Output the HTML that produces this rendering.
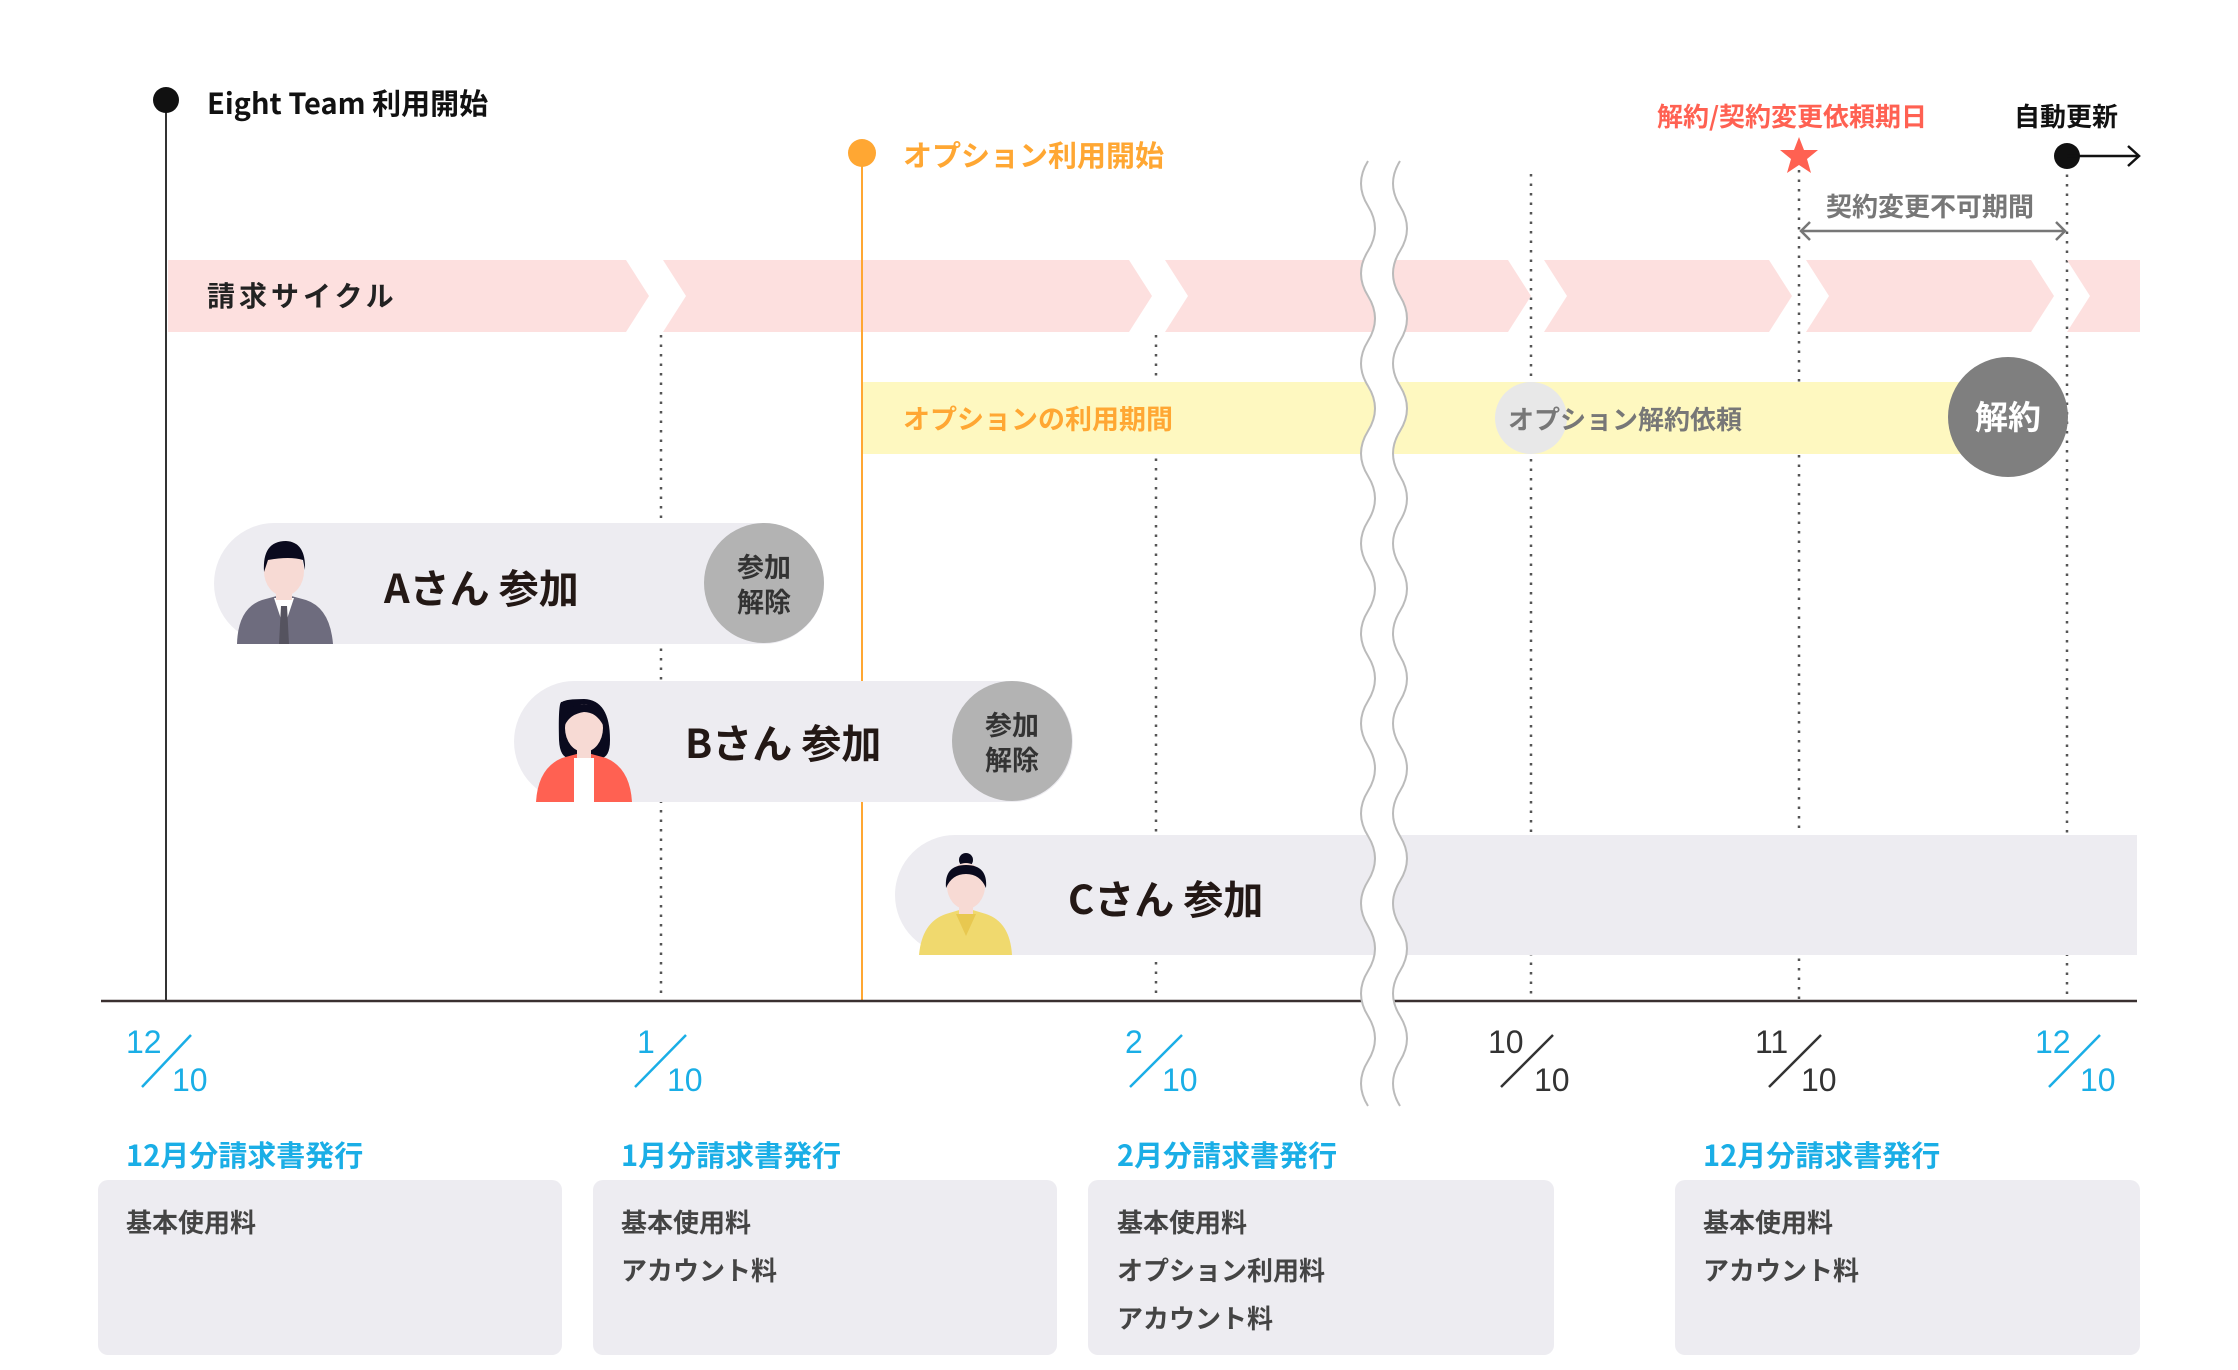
<!DOCTYPE html>
<html><head><meta charset="utf-8"><style>
html,body{margin:0;padding:0;background:#fff;}
svg{display:block;}
text{font-family:"Liberation Sans","Noto Sans CJK JP",sans-serif;}
.j{font-family:"Noto Sans CJK JP","Liberation Sans",sans-serif;}
</style></head><body>
<svg width="2238" height="1370" viewBox="0 0 2238 1370" xmlns="http://www.w3.org/2000/svg">
<rect width="2238" height="1370" fill="#fff"/>
<g stroke="#555" stroke-width="2.5" stroke-dasharray="2.5,7">
<line x1="661" y1="335" x2="661" y2="1000"/>
<line x1="1156" y1="335" x2="1156" y2="1000"/>
<line x1="1531" y1="174" x2="1531" y2="1000"/>
<line x1="1799" y1="170" x2="1799" y2="1000"/>
<line x1="2067" y1="165" x2="2067" y2="1000"/>
</g>
<g fill="#FDE0DF">
<polygon points="168,260 626,260 649,296 626,332 168,332"/>
<polygon points="663,260 1129,260 1152,296 1129,332 663,332 686,296"/>
<polygon points="1165,260 1508,260 1531,296 1508,332 1165,332 1188,296"/>
<polygon points="1544,260 1769,260 1792,296 1769,332 1544,332 1567,296"/>
<polygon points="1806,260 2031,260 2054,296 2031,332 1806,332 1829,296"/>
<polygon points="2067,260 2140,260 2140,332 2067,332 2090,296"/>
</g>
<text class="j" x="207" y="306" font-size="28" font-weight="700" fill="#222" letter-spacing="4">請求サイクル</text>
<rect x="862" y="382" width="1140" height="72" fill="#FEF8C0"/>
<text class="j" x="903" y="429" font-size="27" font-weight="700" fill="#FFA733">オプションの利用期間</text>
<circle cx="1531" cy="418" r="36" fill="#E8E8E8"/>
<text class="j" x="1508" y="429" font-size="26" font-weight="700" fill="#777">オプション解約依頼</text>
<circle cx="2008" cy="417" r="60" fill="#7F7F7F"/>
<text class="j" x="2008" y="429" font-size="33" font-weight="700" fill="#fff" text-anchor="middle">解約</text>
<line x1="166" y1="100" x2="166" y2="1000" stroke="#333" stroke-width="2"/>
<line x1="862" y1="153" x2="862" y2="1000" stroke="#FFA733" stroke-width="2"/>
<circle cx="166" cy="100" r="13" fill="#111"/>
<text class="j" x="207" y="114" font-size="29" font-weight="700" fill="#111">Eight Team 利用開始</text>
<circle cx="862" cy="153" r="14" fill="#FFA733"/>
<text class="j" x="903" y="166" font-size="29" font-weight="700" fill="#FFA733">オプション利用開始</text>
<text class="j" x="1657" y="126" font-size="26" font-weight="700" fill="#FF6152">解約/契約変更依頼期日</text>
<text class="j" x="2014" y="126" font-size="26" font-weight="700" fill="#111">自動更新</text>
<polygon fill="#FF6152" points="1799,137 1804,150 1818,150 1807,159 1811,173 1799,165 1787,173 1791,159 1780,150 1794,150"/>
<circle cx="2067" cy="156" r="13" fill="#111"/>
<line x1="2067" y1="156" x2="2138" y2="156" stroke="#111" stroke-width="2.5"/>
<polyline points="2128,146 2139,156 2128,166" fill="none" stroke="#111" stroke-width="2.5"/>
<text class="j" x="1826" y="216" font-size="26" font-weight="700" fill="#777">契約変更不可期間</text>
<line x1="1801" y1="231" x2="2065" y2="231" stroke="#777" stroke-width="2.5"/>
<polyline points="1810,222 1801,231 1810,240" fill="none" stroke="#777" stroke-width="2.5"/>
<polyline points="2056,222 2065,231 2056,240" fill="none" stroke="#777" stroke-width="2.5"/>
<rect x="214" y="523" width="610" height="121" rx="60.5" fill="#EDECF1"/>
<rect x="514" y="681" width="559" height="121" rx="60.5" fill="#EDECF1"/>
<path d="M955,835 H2137 V955 H955 A60,60 0 0 1 955,835 Z" fill="#EDECF1"/>
<circle cx="764" cy="583" r="60" fill="#B3B3B3"/>
<circle cx="1012" cy="741" r="60" fill="#B3B3B3"/>
<text class="j" x="764" y="577" font-size="27" font-weight="700" fill="#333" text-anchor="middle">参加</text>
<text class="j" x="764" y="612" font-size="27" font-weight="700" fill="#333" text-anchor="middle">解除</text>
<text class="j" x="1012" y="735" font-size="27" font-weight="700" fill="#333" text-anchor="middle">参加</text>
<text class="j" x="1012" y="770" font-size="27" font-weight="700" fill="#333" text-anchor="middle">解除</text>
<text class="j" x="384" y="603" font-size="40" font-weight="700" fill="#231815">Aさん 参加</text>
<text class="j" x="685" y="758" font-size="40" font-weight="700" fill="#231815">Bさん 参加</text>
<text class="j" x="1068" y="914" font-size="40" font-weight="700" fill="#231815">Cさん 参加</text>
<g>
<path d="M237,644 Q238,608 262,600 L284,594 L306,600 Q330,608 333,644 Z" fill="#6E6C7E"/>
<path d="M274,598 L284,628 L294,598 Z" fill="#fff"/>
<path d="M281,606 L287,606 L289,644 L279,644 Z" fill="#55535F"/>
<rect x="276" y="585" width="16" height="15" fill="#F7DAD4"/>
<ellipse cx="284" cy="571" rx="20" ry="25" fill="#F7DAD4"/>
<path d="M264,572 Q262,541 286,541 Q306,542 305,570 L303,560 Q290,556 268,560 Z" fill="#0A0A1E"/>
</g>
<g>
<path d="M562,702 Q558,700 559,740 Q560,760 572,758 L598,758 Q610,760 610,740 Q610,700 584,699 Q566,699 562,702 Z" fill="#0A0A1E"/>
<path d="M536,802 Q538,768 562,758 L584,752 L606,758 Q630,768 632,802 Z" fill="#FF6152"/>
<path d="M574,758 L594,758 L594,802 L574,802 Z" fill="#fff"/>
<rect x="577" y="742" width="14" height="16" fill="#F7DAD4"/>
<ellipse cx="584" cy="728" rx="19" ry="24" fill="#F7DAD4"/>
<path d="M565,725 Q565,704 584,704 Q603,704 603,725 Q596,712 584,712 Q570,714 565,725 Z" fill="#0A0A1E"/>
</g>
<g>
<circle cx="966" cy="860" r="7" fill="#0A0A1E"/>
<path d="M919,955 Q922,922 946,914 L966,908 L986,914 Q1010,922 1012,955 Z" fill="#F0D96E"/>
<path d="M956,914 L966,936 L976,914 Z" fill="#E8C850"/>
<rect x="959" y="898" width="14" height="16" fill="#F7DAD4"/>
<ellipse cx="966" cy="886" rx="19" ry="23" fill="#F7DAD4"/>
<path d="M946,888 Q944,865 966,865 Q988,865 986,888 Q980,874 966,874 Q952,874 946,888 Z" fill="#0A0A1E"/>
</g>
<line x1="101" y1="1001" x2="2137" y2="1001" stroke="#3A3030" stroke-width="2.5"/>
<path d="M1384,161 q-14,22.5 0,45 t0,45 t0,45 t0,45 t0,45 t0,45 t0,45 t0,45 t0,45 t0,45 t0,45 t0,45 t0,45 t0,45 t0,45 t0,45 t0,45 t0,45 t0,45 t0,45 t0,45" fill="none" stroke="#fff" stroke-width="30"/>
<path d="M1368,161 q-14,22.5 0,45 t0,45 t0,45 t0,45 t0,45 t0,45 t0,45 t0,45 t0,45 t0,45 t0,45 t0,45 t0,45 t0,45 t0,45 t0,45 t0,45 t0,45 t0,45 t0,45 t0,45" fill="none" stroke="#BBB" stroke-width="2"/>
<path d="M1400,161 q-14,22.5 0,45 t0,45 t0,45 t0,45 t0,45 t0,45 t0,45 t0,45 t0,45 t0,45 t0,45 t0,45 t0,45 t0,45 t0,45 t0,45 t0,45 t0,45 t0,45 t0,45 t0,45" fill="none" stroke="#BBB" stroke-width="2"/>
<g font-size="32" font-family="Liberation Sans, sans-serif">
<g fill="#1AAEE6"><text x="126" y="1053">12</text><text x="172" y="1091">10</text></g>
<line x1="191" y1="1035" x2="142" y2="1087" stroke="#1AAEE6" stroke-width="2.5"/>
<g fill="#1AAEE6"><text x="637" y="1053">1</text><text x="667" y="1091">10</text></g>
<line x1="686" y1="1035" x2="635" y2="1087" stroke="#1AAEE6" stroke-width="2.5"/>
<g fill="#1AAEE6"><text x="1125" y="1053">2</text><text x="1162" y="1091">10</text></g>
<line x1="1182" y1="1035" x2="1130" y2="1087" stroke="#1AAEE6" stroke-width="2.5"/>
<g fill="#333"><text x="1488" y="1053">10</text><text x="1534" y="1091">10</text></g>
<line x1="1553" y1="1035" x2="1501" y2="1087" stroke="#333" stroke-width="2.5"/>
<g fill="#333"><text x="1755" y="1053">11</text><text x="1801" y="1091">10</text></g>
<line x1="1821" y1="1035" x2="1769" y2="1087" stroke="#333" stroke-width="2.5"/>
<g fill="#1AAEE6"><text x="2035" y="1053">12</text><text x="2080" y="1091">10</text></g>
<line x1="2100" y1="1035" x2="2049" y2="1087" stroke="#1AAEE6" stroke-width="2.5"/>
</g>
<g font-size="29" font-weight="700" fill="#1AAEE6">
<text class="j" x="126" y="1166">12月分請求書発行</text>
<text class="j" x="621" y="1166">1月分請求書発行</text>
<text class="j" x="1117" y="1166">2月分請求書発行</text>
<text class="j" x="1703" y="1166">12月分請求書発行</text>
</g>
<g fill="#EDECF1">
<rect x="98" y="1180" width="464" height="175" rx="10"/>
<rect x="593" y="1180" width="464" height="175" rx="10"/>
<rect x="1088" y="1180" width="466" height="175" rx="10"/>
<rect x="1675" y="1180" width="465" height="175" rx="10"/>
</g>
<g font-size="26" font-weight="700" fill="#444">
<text class="j" x="126" y="1232">基本使用料</text>
<text class="j" x="621" y="1232">基本使用料</text>
<text class="j" x="621" y="1280">アカウント料</text>
<text class="j" x="1117" y="1232">基本使用料</text>
<text class="j" x="1117" y="1280">オプション利用料</text>
<text class="j" x="1117" y="1328">アカウント料</text>
<text class="j" x="1703" y="1232">基本使用料</text>
<text class="j" x="1703" y="1280">アカウント料</text>
</g>
</svg>
</body></html>
